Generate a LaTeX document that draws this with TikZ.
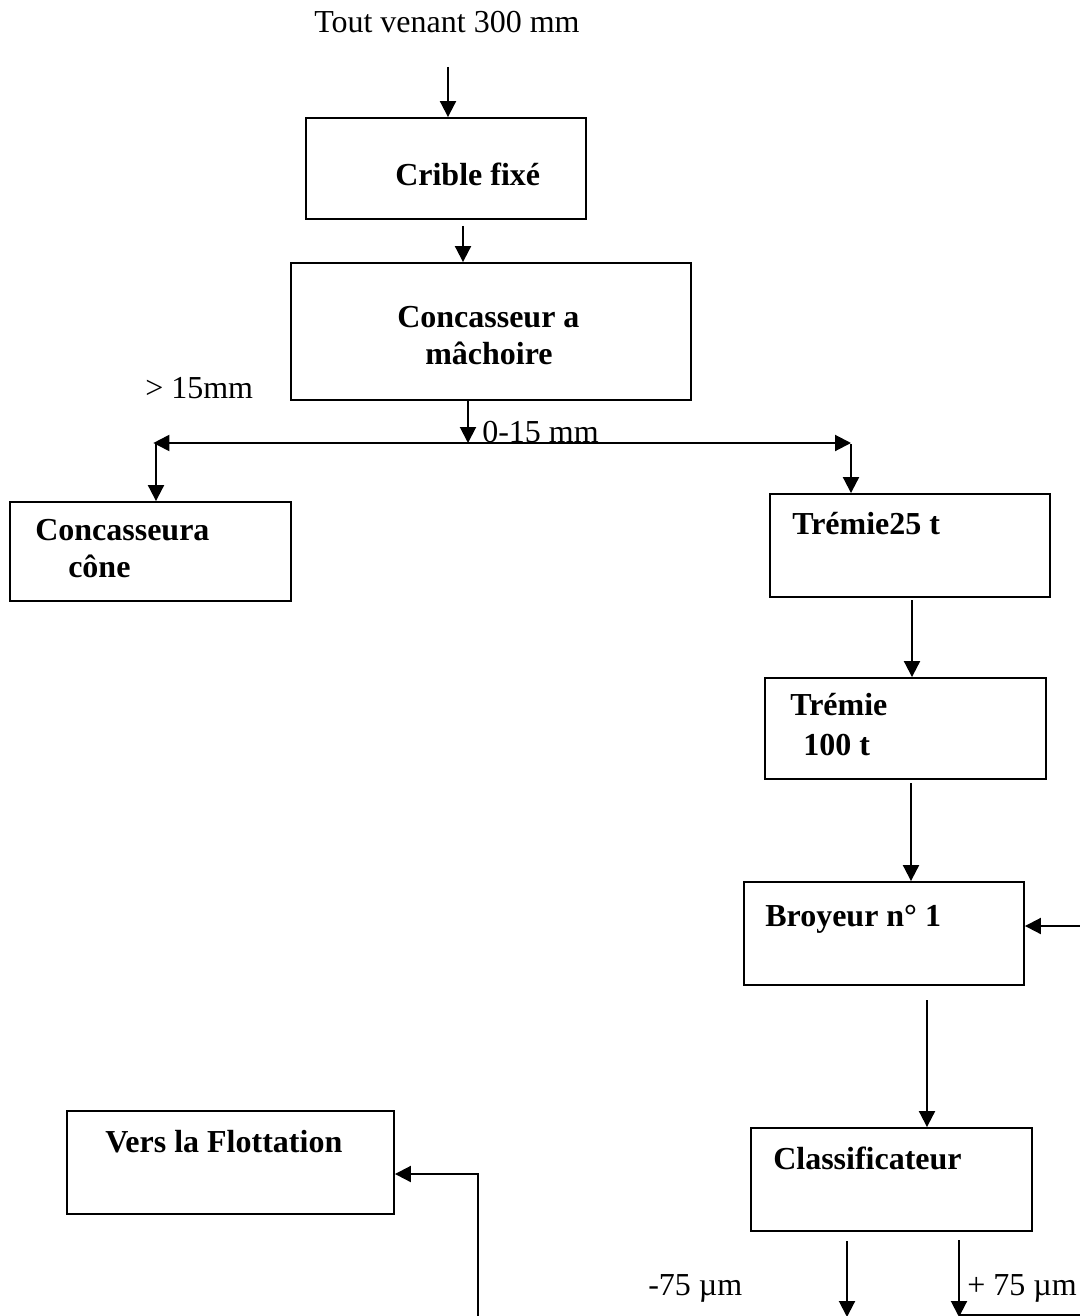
\documentclass[tikz,border=0pt]{standalone}
\usepackage{fontspec}
\setmainfont{Liberation Serif}
\usetikzlibrary{arrows.meta,fit}
\begin{document}
\begin{tikzpicture}[x=0.75pt,y=-0.75pt,
  box/.style={draw,line width=1.4pt,inner sep=0pt,rectangle},
  tip/.style={},
  arr/.style={line width=1.5pt,-{Triangle[length=12pt,width=12pt]}},
  ln/.style={line width=1.5pt},
  lbl/.style={anchor=base west,inner sep=0pt,font=\fontsize{24pt}{28pt}\selectfont},
  blbl/.style={lbl,font=\fontsize{24pt}{28pt}\selectfont\bfseries}]
\useasboundingbox (0,0) rectangle (1080,1316);
\clip (0,0) rectangle (1080,1316);
% boxes
\node[box,fit={(306,118)(586,219)}] (crible) {};
\node[box,fit={(291,263)(691,400)}] (conc) {};
\node[box,fit={(10,502)(291,601)}] (cone) {};
\node[box,fit={(770,494)(1050,597)}] (trem25) {};
\node[box,fit={(765,678)(1046,779)}] (trem100) {};
\node[box,fit={(744,882)(1024,985)}] (broy) {};
\node[box,fit={(67,1111)(394,1214)}] (flot) {};
\node[box,fit={(751,1128)(1032,1231)}] (classif) {};
% texts
\node[lbl] (tv) at (314,33) {Tout venant 300 mm};
\node[blbl] (tcrible) at (395,186) {Crible fixé};
\node[blbl] (tconc1) at (397,327) {Concasseur a};
\node[blbl] (tconc2) at (425,364) {mâchoire};
\node[lbl] (t15) at (145,398) {> 15mm};
\node[lbl] (t015) at (482,442) {0-15 mm};
\node[blbl] (tcone1) at (35,540) {Concasseura};
\node[blbl] (tcone2) at (68,577) {cône};
\node[blbl] (ttrem25) at (792,534) {Trémie25 t};
\node[blbl] (ttrem1) at (790,715) {Trémie};
\node[blbl] (ttrem2) at (803,755) {100 t};
\node[blbl] (tbroy) at (765,926) {Broyeur n° 1};
\node[blbl] (tflot) at (105,1152) {Vers la Flottation};
\node[blbl] (tclass) at (773,1169) {Classificateur};
\node[lbl] (tm75) at (648,1295) {-75 µm};
\node[lbl] (tp75) at (967,1295) {+ 75 µm};
% free-end coordinates
\coordinate (a1) at (448,67);
\coordinate (a2) at (463,226);
\coordinate (j) at (468,443);
\coordinate (jl) at (156,443);
\coordinate (jr) at (851,443);
\coordinate (a4) at (912,600);
\coordinate (a5) at (911,783);
\coordinate (a6) at (927,1000);
\coordinate (rin) at (1082,926);
\coordinate (f1) at (478,1318);
\coordinate (f2) at (478,1174);
\coordinate (c1) at (847,1241);
\coordinate (c1e) at (847,1317);
\coordinate (c2) at (959,1240);
\coordinate (c2e) at (959,1317);
\coordinate (c2r) at (1082,1315);
% connectors
\draw[arr] (a1) -- (a1 |- crible.north);
\draw[arr] (a2) -- (a2 |- conc.north);
\draw[arr] (j |- conc.south) -- (j);
\draw[ln,{Triangle[length=12pt,width=12pt]}-{Triangle[length=12pt,width=12pt]}] ([xshift=-2pt]jl) -- (jr);
\draw[arr] ([yshift=-1pt]jl) -- (jl |- cone.north);
\draw[arr] ([yshift=-1pt]jr) -- (jr |- trem25.north);
\draw[arr] (a4) -- (a4 |- trem100.north);
\draw[arr] (a5) -- (a5 |- broy.north);
\draw[arr] (a6) -- (a6 |- classif.north);
\draw[arr] (rin) -- (rin -| broy.east);
\draw[arr] (f1) -- (f2) -- (f2 -| flot.east);
\draw[arr] (c1) -- (c1e);
\draw[arr] (c2) -- (c2e);
\draw[ln] (c2 |- c2r) -- (c2r);
\end{tikzpicture}
\end{document}
